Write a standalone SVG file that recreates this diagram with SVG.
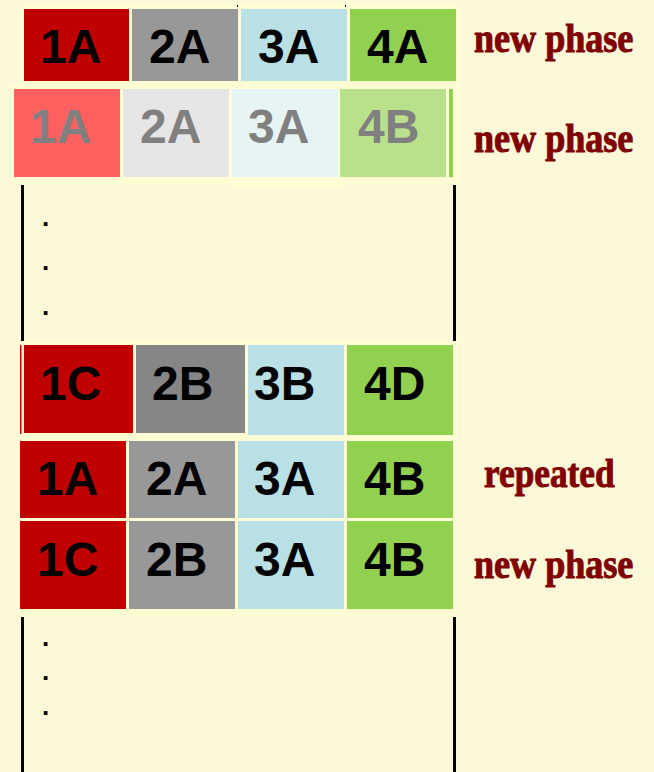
<svg xmlns="http://www.w3.org/2000/svg" width="654" height="772" viewBox="0 0 654 772">
<style>
.bg{fill:#FCF8D8}
.panel{fill:#FEFDD4}
.t{font-family:"Liberation Sans",Arial,sans-serif;font-weight:bold;font-size:48px;fill:#000}
.tf{font-family:"Liberation Sans",Arial,sans-serif;font-weight:bold;font-size:48px;fill:#808080}
.lbl{font-family:"Liberation Serif","Times New Roman",serif;font-weight:bold;font-size:41px;fill:#800000;stroke:#800000;stroke-width:1}
.dot{font-family:"Liberation Sans",Arial,sans-serif;font-weight:bold;font-size:26px;fill:#000}
.red{fill:#C00000}.gray{fill:#999898}.dgray{fill:#868686}.blue{fill:#B9E0E4}.green{fill:#92D050}
.fred{fill:#FF6161}.fgray{fill:#E6E6E6}.fblue{fill:#E6F4F4}.fgreen{fill:#B9E08A}
.vl{stroke:#000;stroke-width:3}
</style>
<rect class="bg" x="0" y="0" width="654" height="772"/>
<g id="panels">
<rect class="panel" x="21" y="5" width="438" height="82"/>
<rect class="panel" x="11" y="84" width="448" height="100"/>
<rect class="panel" x="229" y="180" width="115" height="8"/>
<rect class="panel" x="17" y="341" width="440" height="98"/>
<rect class="panel" x="17" y="438" width="439" height="179"/>
<rect x="237" y="5" width="1" height="2" fill="#000"/>
<rect x="345" y="5" width="1" height="2" fill="#000"/>
</g>
<g id="row1">
<rect class="red" x="24" y="9" width="105" height="72"/>
<rect class="gray" x="132" y="9" width="106" height="72"/>
<rect class="blue" x="241" y="9" width="106" height="72"/>
<rect class="green" x="350" y="9" width="106" height="72"/>
<text class="t" x="40" y="63">1A</text>
<text class="t" x="149" y="63">2A</text>
<text class="t" x="258" y="63">3A</text>
<text class="t" x="367" y="63">4A</text>
</g>
<g id="row2">
<rect class="fred" x="14" y="89" width="106" height="88"/>
<rect class="fgray" x="123" y="89" width="106" height="88"/>
<rect class="fblue" x="232" y="89" width="106" height="88"/>
<rect class="fgreen" x="340" y="89" width="106" height="88"/>
<rect class="green" x="449" y="89" width="4" height="88"/>
<text class="tf" x="30" y="143">1A</text>
<text class="tf" x="140" y="143">2A</text>
<text class="tf" x="248" y="143">3A</text>
<text class="tf" x="358" y="143">4B</text>
</g>
<g id="gap1">
<line class="vl" x1="22.5" y1="185" x2="22.5" y2="341"/>
<line class="vl" x1="454.5" y1="185" x2="454.5" y2="341"/>
<text class="dot" x="42" y="226">.</text>
<text class="dot" x="42" y="270">.</text>
<text class="dot" x="42" y="315">.</text>
</g>
<g id="row3">
<rect x="20" y="345" width="1.5" height="89" fill="#C00000"/>
<rect class="red" x="24" y="345" width="109" height="88"/>
<rect class="dgray" x="136" y="345" width="109" height="88"/>
<rect class="blue" x="248" y="345" width="96" height="90"/>
<rect class="green" x="347" y="345" width="106" height="90"/>
<text class="t" x="40" y="400">1C</text>
<text class="t" x="152" y="400">2B</text>
<text class="t" x="254" y="400">3B</text>
<text class="t" x="364" y="400">4D</text>
</g>
<g id="row4">
<rect class="red" x="20" y="441" width="106" height="77"/>
<rect class="gray" x="129" y="441" width="106" height="77"/>
<rect class="blue" x="238" y="441" width="106" height="77"/>
<rect class="green" x="347" y="441" width="106" height="77"/>
<text class="t" x="37" y="495">1A</text>
<text class="t" x="146" y="495">2A</text>
<text class="t" x="254" y="495">3A</text>
<text class="t" x="364" y="495">4B</text>
</g>
<g id="row5">
<rect class="red" x="20" y="521" width="106" height="88"/>
<rect class="gray" x="129" y="521" width="106" height="88"/>
<rect class="blue" x="238" y="521" width="106" height="88"/>
<rect class="green" x="347" y="521" width="106" height="88"/>
<text class="t" x="37" y="576">1C</text>
<text class="t" x="146" y="576">2B</text>
<text class="t" x="254" y="576">3A</text>
<text class="t" x="364" y="576">4B</text>
</g>
<g id="gap2">
<line class="vl" x1="22.5" y1="617" x2="22.5" y2="772"/>
<line class="vl" x1="454.5" y1="617" x2="454.5" y2="772"/>
<text class="dot" x="42" y="646">.</text>
<text class="dot" x="42" y="680">.</text>
<text class="dot" x="42" y="715">.</text>
</g>
<g id="labels">
<text class="lbl" transform="translate(474,52) scale(0.88,1)" x="0" y="0">new phase</text>
<text class="lbl" transform="translate(474,152) scale(0.88,1)" x="0" y="0">new phase</text>
<text class="lbl" transform="translate(484,487) scale(0.86,1)" x="0" y="0">repeated</text>
<text class="lbl" transform="translate(474,578) scale(0.88,1)" x="0" y="0">new phase</text>
</g>
</svg>
